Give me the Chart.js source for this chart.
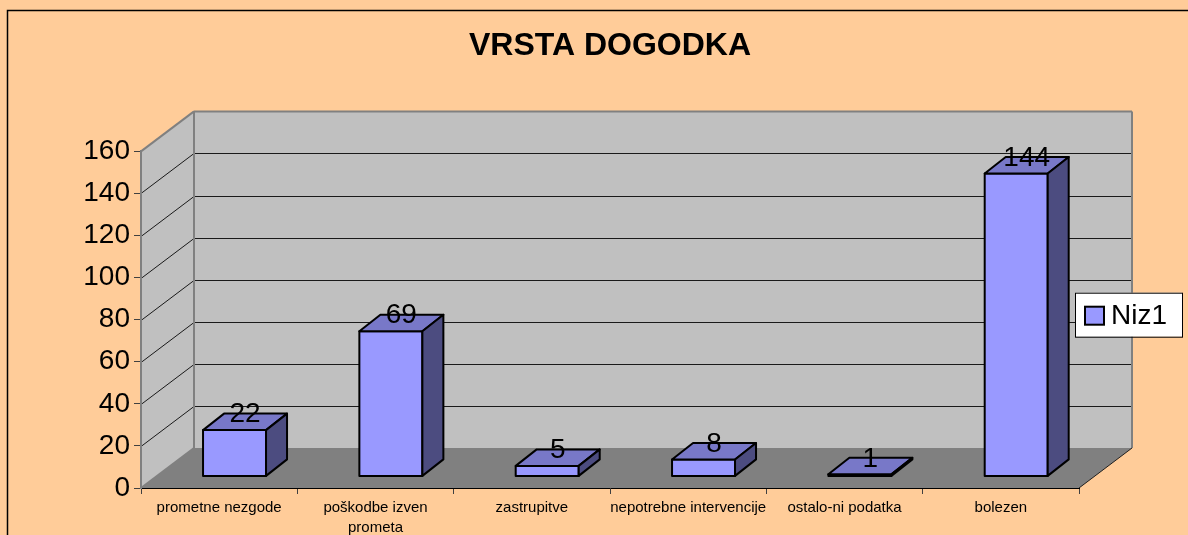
<!DOCTYPE html>
<html>
<head>
<meta charset="utf-8">
<script src="https://cdn.jsdelivr.net/npm/chart.js@4.4.1/dist/chart.umd.min.js"></script>
<style>
  html, body { margin: 0; padding: 0; background: #FFCC99; }
  #wrap { width: 1188px; height: 535px; position: relative; }
</style>
</head>
<body>
<div id="wrap"><canvas id="grafico"></canvas></div>
<script>
const chartTitle = 'VRSTA DOGODKA';
const seriesName = 'Niz1';
const categories = ['prometne nezgode', ['poškodbe izven', 'prometa'], 'zastrupitve', 'nepotrebne intervencije', 'ostalo-ni podatka', 'bolezen'];
const values = [22, 69, 5, 8, 1, 144];
const yMin = 0;
const yMax = 160;
const yStep = 20;

const FONT = "'Liberation Sans', Arial, sans-serif";
const DEPTH = { x: 53, y: -40 };      // floor / wall depth
const BAR_OFF = 0.29;                 // bar front position inside the depth
const BAR_DEPTH = { x: 21, y: -16.5 };

function poly(ctx, pts) {
    ctx.beginPath();
    ctx.moveTo(pts[0][0], pts[0][1]);
    for (let i = 1; i < pts.length; i++) ctx.lineTo(pts[i][0], pts[i][1]);
    ctx.closePath();
}

function line(ctx, x0, y0, x1, y1) {
    ctx.beginPath();
    ctx.moveTo(x0, y0);
    ctx.lineTo(x1, y1);
    ctx.stroke();
}

const walls3d = {
    id: 'walls3d',
    beforeDraw(chart) {
        const { ctx, chartArea: a } = chart;
        const yScale = chart.scales.y;
        const dx = DEPTH.x, dy = DEPTH.y;
        ctx.save();
        ctx.fillStyle = '#FFCC99';
        ctx.fillRect(0, 0, chart.width, chart.height);
        ctx.strokeStyle = '#000';
        ctx.lineWidth = 1.5;
        ctx.strokeRect(7.5, 10.5, chart.width + 20, chart.height + 20);

        // back wall + side wall
        ctx.fillStyle = '#C0C0C0';
        ctx.fillRect(a.left + dx, a.top + dy, a.right - a.left, a.bottom - a.top);
        poly(ctx, [[a.left, a.top], [a.left + dx, a.top + dy], [a.left + dx, a.bottom + dy], [a.left, a.bottom]]);
        ctx.fill();
        // floor
        ctx.fillStyle = '#808080';
        poly(ctx, [[a.left, a.bottom], [a.right, a.bottom], [a.right + dx, a.bottom + dy], [a.left + dx, a.bottom + dy]]);
        ctx.fill();

        // grid lines
        ctx.strokeStyle = '#1a1a1a';
        ctx.lineWidth = 1;
        yScale.ticks.forEach(t => {
            if (t.value <= yMin || t.value >= yMax) return;
            const py = Math.round(yScale.getPixelForValue(t.value)) + 0.5;
            line(ctx, a.left, py, a.left + dx, py + dy);
            line(ctx, a.left + dx, py + dy, a.right + dx, py + dy);
        });

        // wall edges
        ctx.strokeStyle = '#808080';
        ctx.lineWidth = 2;
        line(ctx, a.left, a.top, a.left + dx, a.top + dy);
        line(ctx, a.left + dx, a.top + dy, a.right + dx, a.top + dy);
        line(ctx, a.right + dx, a.top + dy, a.right + dx, a.bottom + dy);
        line(ctx, a.left + dx, a.top + dy, a.left + dx, a.bottom + dy);
        line(ctx, a.left, a.bottom, a.left + dx, a.bottom + dy);
        ctx.strokeStyle = '#202020';
        ctx.lineWidth = 1;
        line(ctx, a.right, a.bottom, a.right + dx, a.bottom + dy);
        ctx.restore();
    }
};

const bars3d = {
    id: 'bars3d',
    beforeDatasetsDraw(chart) {
        const ctx = chart.ctx;
        const ds = chart.data.datasets[0];
        const meta = chart.getDatasetMeta(0);
        const ox = DEPTH.x * BAR_OFF, oy = DEPTH.y * BAR_OFF;
        const bx = BAR_DEPTH.x, by = BAR_DEPTH.y;
        ctx.save();
        ctx.lineWidth = 2;
        ctx.lineJoin = 'round';
        ctx.strokeStyle = '#000';
        meta.data.forEach(bar => {
            const x0 = bar.x - bar.width / 2 + ox, x1 = x0 + bar.width;
            const yt = bar.y + oy, yb = bar.base + oy;
            ctx.fillStyle = ds.backgroundColor;
            poly(ctx, [[x0, yt], [x1, yt], [x1, yb], [x0, yb]]);
            ctx.fill(); ctx.stroke();
            ctx.fillStyle = '#7878C8';
            poly(ctx, [[x0, yt], [x0 + bx, yt + by], [x1 + bx, yt + by], [x1, yt]]);
            ctx.fill(); ctx.stroke();
            ctx.fillStyle = '#4C4C80';
            poly(ctx, [[x1, yt], [x1 + bx, yt + by], [x1 + bx, yb + by], [x1, yb]]);
            ctx.fill(); ctx.stroke();
        });
        ctx.fillStyle = '#000';
        ctx.font = '28px ' + FONT;
        ctx.textAlign = 'center';
        ctx.textBaseline = 'middle';
        meta.data.forEach((bar, i) => {
            ctx.fillText(String(ds.data[i]), bar.x + ox + bx / 2, bar.y + oy + by + 1);
        });
        ctx.restore();
        return false;
    }
};

const legendBox = {
    id: 'legendBox',
    afterDraw(chart) {
        const { ctx, chartArea: a } = chart;
        const ds = chart.data.datasets[0];
        const left = a.right - 4, top = (a.top + a.bottom) / 2 - 27;
        ctx.save();
        ctx.fillStyle = '#fff';
        ctx.fillRect(left, top, 107, 44);
        ctx.strokeStyle = '#000';
        ctx.lineWidth = 1;
        ctx.strokeRect(left + 0.5, top + 0.5, 107, 44);
        ctx.fillStyle = ds.backgroundColor;
        ctx.lineWidth = 2;
        ctx.fillRect(left + 10, top + 14, 19, 18);
        ctx.strokeRect(left + 10, top + 14, 19, 18);
        ctx.fillStyle = '#000';
        ctx.font = '28px ' + FONT;
        ctx.textAlign = 'left';
        ctx.textBaseline = 'middle';
        ctx.fillText(ds.label, left + 36, top + 24);
        ctx.restore();
    }
};

new Chart(document.getElementById('grafico'), {
    type: 'bar',
    data: {
        labels: categories,
        datasets: [{
            label: seriesName,
            data: values,
            backgroundColor: '#9999FF',
            categoryPercentage: 1,
            barPercentage: 0.403
        }]
    },
    options: {
        responsive: true,
        maintainAspectRatio: false,
        animation: false,
        layout: { padding: { left: 0, right: 109, top: 0, bottom: 0 } },
        plugins: {
            legend: { display: false },
            tooltip: { enabled: false },
            title: {
                display: true,
                fullSize: false,
                text: chartTitle,
                color: '#000',
                font: { family: FONT, size: 32, weight: 'bold' },
                padding: { top: 27, bottom: 86 }
            }
        },
        scales: {
            x: {
                offset: true,
                grid: { offset: true, drawOnChartArea: false, tickLength: 6, color: '#404040' },
                border: { color: '#000', width: 1 },
                ticks: { font: { family: FONT, size: 15, lineHeight: 1.33 }, color: '#000', padding: 4, maxRotation: 0, autoSkip: false },
                afterFit(s) { s.height = 47; }
            },
            y: {
                min: yMin,
                max: yMax,
                ticks: { stepSize: yStep, font: { family: FONT, size: 28 }, color: '#000', padding: 4 },
                grid: { drawOnChartArea: false, tickLength: 7, color: '#404040' },
                border: { color: '#808080', width: 2 },
                afterFit(s) { s.width = 141; }
            }
        }
    },
    plugins: [walls3d, bars3d, legendBox]
});
</script>
</body>
</html>
